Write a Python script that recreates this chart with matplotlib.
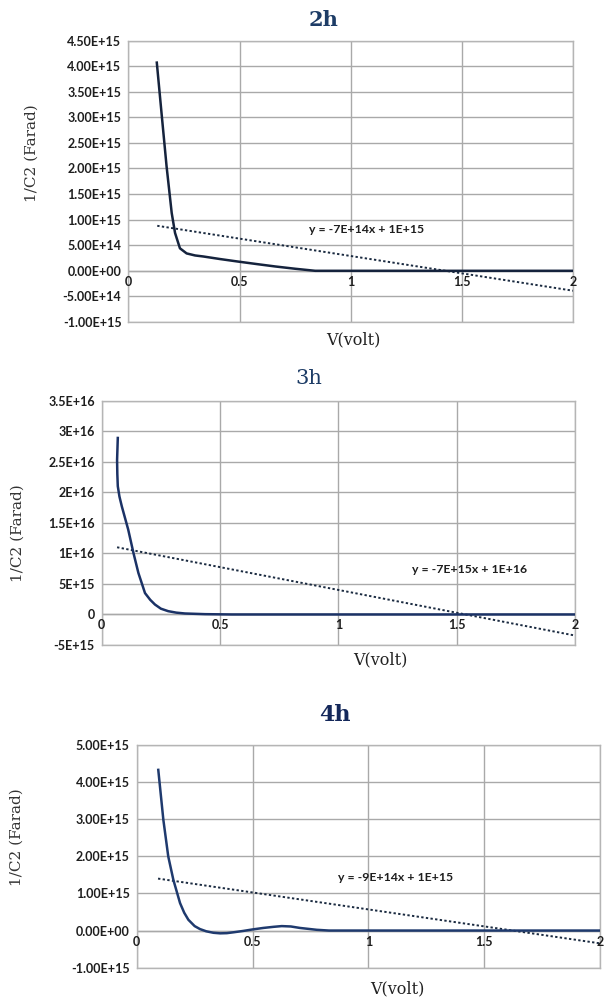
# 1/C^2 - V 곡선 (2h, 3h, 4h)
import numpy as np
import matplotlib.pyplot as plt

# 그래프에서 읽어온 값 (전압 V, 1/C2 값)
v_2h = [0.128, 0.15, 0.172, 0.195, 0.21, 0.232, 0.262, 0.30, 0.337, 0.412, 0.494, 0.58, 0.66, 0.75, 0.84, 1.0, 1.5, 2.0]
c_2h = [4.07e15, 3.05e15, 2.04e15, 1.13e15, 0.74e15, 0.44e15, 0.34e15, 0.30e15, 0.28e15, 0.23e15, 0.18e15,
        0.13e15, 0.085e15, 0.04e15, 0.0, 0.0, 0.0, 0.0]

v_3h = [0.068, 0.065, 0.066, 0.068, 0.075, 0.085, 0.112, 0.134, 0.155, 0.183, 0.205, 0.225, 0.25, 0.281,
        0.315, 0.352, 0.437, 0.55, 1.0, 1.5, 2.0]
c_3h = [28.9e15, 25.3e15, 23.0e15, 21.0e15, 19.3e15, 17.7e15, 13.9e15, 10.1e15, 6.8e15, 3.5e15, 2.4e15,
        1.63e15, 0.95e15, 0.54e15, 0.3e15, 0.16e15, 0.05e15, 0.0, 0.0, 0.0, 0.0]

v_4h = [0.093, 0.115, 0.136, 0.158, 0.187, 0.205, 0.223, 0.25, 0.273, 0.30, 0.331, 0.36, 0.389, 0.42, 0.46,
        0.50, 0.546, 0.59, 0.626, 0.665, 0.705, 0.777, 0.83, 1.0, 1.5, 2.0]
c_4h = [4.33e15, 2.98e15, 2.0e15, 1.37e15, 0.74e15, 0.48e15, 0.29e15, 0.12e15, 0.04e15, -0.02e15, -0.06e15,
        -0.075e15, -0.07e15, -0.045e15, -0.01e15, 0.03e15, 0.07e15, 0.10e15, 0.12e15, 0.11e15, 0.07e15,
        0.02e15, 0.0, 0.0, 0.0, 0.0]

# 추세선 (점선) 양 끝점
trend_2h_v = [0.13, 2.0]
trend_2h_c = [0.88e15, -0.39e15]
trend_3h_v = [0.065, 2.0]
trend_3h_c = [11.0e15, -3.45e15]
trend_4h_v = [0.092, 2.0]
trend_4h_c = [1.40e15, -0.345e15]

# 축 눈금과 라벨
x_ticks = [0, 0.5, 1, 1.5, 2]
x_labels = ['0', '0.5', '1', '1.5', '2']
y_ticks_2h = [4.5e15, 4e15, 3.5e15, 3e15, 2.5e15, 2e15, 1.5e15, 1e15, 5e14, 0, -5e14, -1e15]
y_labels_2h = ['4.50E+15', '4.00E+15', '3.50E+15', '3.00E+15', '2.50E+15', '2.00E+15', '1.50E+15',
               '1.00E+15', '5.00E+14', '0.00E+00', '-5.00E+14', '-1.00E+15']
y_ticks_3h = [3.5e16, 3e16, 2.5e16, 2e16, 1.5e16, 1e16, 5e15, 0, -5e15]
y_labels_3h = ['3.5E+16', '3E+16', '2.5E+16', '2E+16', '1.5E+16', '1E+16', '5E+15', '0', '-5E+15']
y_ticks_4h = [5e15, 4e15, 3e15, 2e15, 1e15, 0, -1e15]
y_labels_4h = ['5.00E+15', '4.00E+15', '3.00E+15', '2.00E+15', '1.00E+15', '0.00E+00', '-1.00E+15']

titles = ['2h', '3h', '4h']
equations = ['y = -7E+14x + 1E+15', 'y = -7E+15x + 1E+16', 'y = -9E+14x + 1E+15']

fig = plt.figure(figsize=(6.05, 9.98), dpi=100)

serif = 'DejaVu Serif'
tick_font = dict(family='Lato', weight='bold', size=9, color='#1e1e1e')


def draw_panel(rect, v, c, tv, tc, yt, yl, eq, eq_pos, line_color, lab_off):
    ax = fig.add_axes(rect)
    ax.plot(v, c, color=line_color, lw=1.8, solid_joinstyle='round', zorder=3)
    ax.plot(tv, tc, color='#1a2a40', lw=1.4, linestyle=(0, (1.2, 1.2)), zorder=2)
    ax.set_xlim(0, 2)
    ax.set_ylim(yt[-1], yt[0])
    ax.set_xticks(x_ticks)
    ax.set_yticks(yt)
    ax.set_yticklabels(yl, **tick_font)
    ax.set_xticklabels([])
    ax.tick_params(length=0, pad=5)
    ax.grid(True, color='#a9a9a9', lw=1.0)
    ax.axhline(0, color='#a9a9a9', lw=1.0, zorder=1)
    for s in ax.spines.values():
        s.set_color('#b5b5b5')
        s.set_linewidth(1.0)
    # 엑셀처럼 x 눈금 라벨을 0 선 바로 아래에
    for xt, xl in zip(x_ticks, x_labels):
        ax.annotate(xl, (xt, 0), xytext=(0, -lab_off), textcoords='offset points',
                    ha='center', va='top', annotation_clip=False, **tick_font)
    ax.text(eq_pos[0], eq_pos[1], eq, ha='center', va='center',
            family='Lato', weight='bold', size=8.8, color='#1e1e1e')
    return ax


draw_panel([0.2121, 0.6774, 0.7355, 0.2819], v_2h, c_2h, trend_2h_v, trend_2h_c,
           y_ticks_2h, y_labels_2h, equations[0], (1.07, 0.80e15), '#15233d', 4)
draw_panel([0.1681, 0.3537, 0.7823, 0.2448], v_3h, c_3h, trend_3h_v, trend_3h_c,
           y_ticks_3h, y_labels_3h, equations[1], (1.556, 7.35e15), '#1b3266', 3)
draw_panel([0.2260, 0.0304, 0.7658, 0.2231], v_4h, c_4h, trend_4h_v, trend_4h_c,
           y_ticks_4h, y_labels_4h, equations[2], (1.117, 1.44e15), '#1f3a6e', 4)

# 제목
fig.text(0.5355, 0.980, titles[0], ha='center', va='center', family=serif, weight='bold',
         size=15, color='#1d3c66')
fig.text(0.5107, 0.6212, titles[1], ha='center', va='center', family=serif,
         size=15, color='#1d3c66')
fig.text(0.5537, 0.2836, titles[2], ha='center', va='center', family=serif, weight='bold',
         size=16, color='#14285a')

# 축 이름
ylabel = '1/C2 (Farad)'
for xy in [(0.0529, 0.8467), (0.0289, 0.4659), (0.0281, 0.1613)]:
    fig.text(xy[0], xy[1], ylabel, rotation=90, ha='center', va='center', family=serif,
             size=11, color='#333333')
for xy in [(0.5835, 0.6593), (0.628, 0.3387), (0.656, 0.0095)]:
    fig.text(xy[0], xy[1], 'V(volt)', ha='center', va='center', family=serif,
             size=11.5, color='#222222')

plt.savefig('out.png', dpi=100)
